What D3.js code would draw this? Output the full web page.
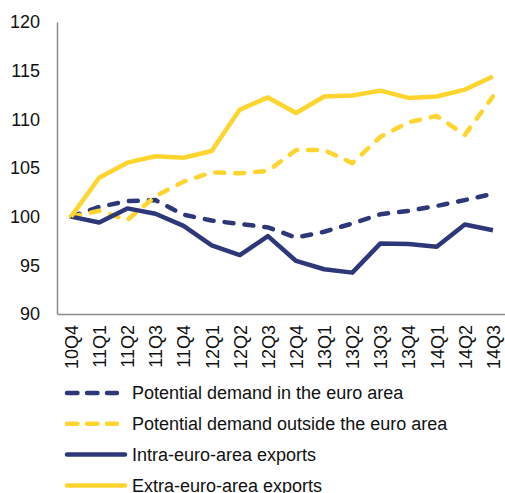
<!DOCTYPE html>
<html>
<head>
<meta charset="utf-8">
<script src="https://cdn.jsdelivr.net/npm/d3@7"></script>
<style>
body { margin:0; background:#fff; }
text { font-family: "Liberation Sans", Arial, sans-serif; fill:#111; }
</style>
</head>
<body>
<svg id="chart"></svg>
<script>
var quarters = ["10Q4","11Q1","11Q2","11Q3","11Q4","12Q1","12Q2","12Q3","12Q4",
                "13Q1","13Q2","13Q3","13Q4","14Q1","14Q2","14Q3"]
var demandIn = [100,101.0,101.6,101.7,100.2,99.6,99.25,98.9,97.85,98.45,99.3,100.25,100.6,101.1,101.7,102.35]
var demandOut = [100,100.6,99.65,102.1,103.6,104.55,104.45,104.7,106.85,106.85,105.5,108.2,109.7,110.35,108.4,112.35]
var intraExports = [100,99.4,100.85,100.3,99.05,97.05,96.05,98.0,95.45,94.6,94.25,97.25,97.2,96.9,99.2,98.6]
var extraExports = [100,104.0,105.55,106.2,106.05,106.75,111.0,112.25,110.65,112.35,112.45,112.95,112.2,112.35,113.05,114.4]
var yTicks = [90,95,100,105,110,115,120]

var navy = "#2e3878"
var yellow = "#fdd52e"

var series = [
    {name:"Potential demand in the euro area", values:demandIn, color:navy, dash:true},
    {name:"Potential demand outside the euro area", values:demandOut, color:yellow, dash:true},
    {name:"Intra-euro-area exports", values:intraExports, color:navy, dash:false},
    {name:"Extra-euro-area exports", values:extraExports, color:yellow, dash:false}
]

var screen = {width:505, height:493}
var margins = {top:22, left:57}
var graph = {width:450, height:292}

var svg = d3.select("#chart")
    .attr("width", screen.width)
    .attr("height", screen.height)

var xScale = d3.scalePoint()
    .domain(quarters)
    .range([0, graph.width])
    .padding(0.5)
var yScale = d3.scaleLinear()
    .domain([90,120])
    .range([graph.height,0])

var g = svg.append("g")
    .attr("transform","translate("+margins.left+","+margins.top+")")

// axes
var yAxis = d3.axisLeft(yScale).tickValues(yTicks).tickSize(0).tickPadding(17)
var xAxis = d3.axisBottom(xScale).tickSize(0)

var ya = g.append("g").call(yAxis)
ya.select(".domain").attr("stroke","#8c8c8c").attr("stroke-width",1.5)
ya.selectAll("text").style("font-size","18px").attr("fill","#111")

var xa = g.append("g")
    .attr("transform","translate(0,"+graph.height+")")
    .call(xAxis)
xa.select(".domain").attr("stroke","#8c8c8c").attr("stroke-width",1.5)
xa.selectAll("text")
    .style("font-size","18px")
    .attr("fill","#111")
    .attr("text-anchor","end")
    .attr("transform","rotate(-90)")
    .attr("x",-11)
    .attr("y",0)
    .attr("dy","0.35em")

// lines
var line = d3.line()
    .x(function(d,i){return xScale(quarters[i])})
    .y(function(d){return yScale(d)})

g.selectAll(".series")
    .data(series)
    .enter()
    .append("path")
    .attr("class","series")
    .attr("fill","none")
    .attr("stroke",function(s){return s.color})
    .attr("stroke-width",4.5)
    .attr("stroke-linejoin","round")
    .attr("stroke-linecap",function(s){return s.dash ? "round" : "butt"})
    .attr("stroke-dasharray",function(s){return s.dash ? "9,11" : null})
    .attr("d",function(s){return line(s.values)})

// legend
var legend = svg.append("g")
    .attr("transform","translate(65,393)")
var items = legend.selectAll("g")
    .data(series)
    .enter()
    .append("g")
    .attr("transform",function(s,i){return "translate(0,"+(i*30.8)+")"})
items.append("line")
    .attr("x1",2).attr("x2",function(s){return s.dash ? 52 : 60})
    .attr("y1",0).attr("y2",0)
    .attr("stroke",function(s){return s.color})
    .attr("stroke-width",4.5)
    .attr("stroke-linecap","round")
    .attr("stroke-dasharray",function(s){return s.dash ? "10.5,9.5" : null})
items.append("text")
    .attr("x",67)
    .attr("y",0)
    .attr("dy","0.35em")
    .style("font-size","18px")
    .text(function(s){return s.name})
</script>
</body>
</html>
